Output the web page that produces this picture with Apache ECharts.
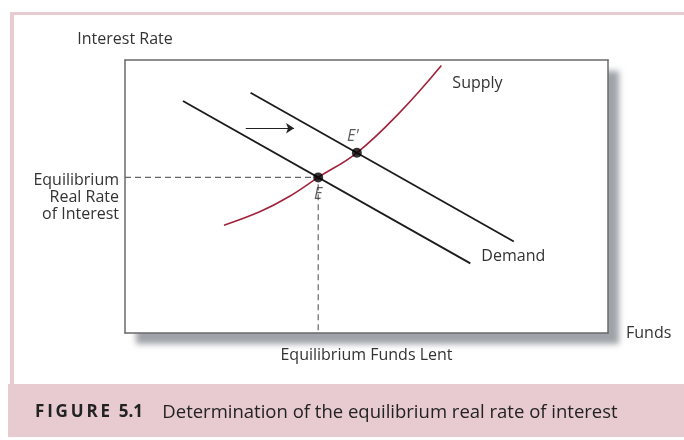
<!DOCTYPE html>
<html>
<head>
<meta charset="utf-8">
<script src="https://cdn.jsdelivr.net/npm/echarts@6/dist/echarts.min.js"></script>
<style>
  html, body { margin: 0; padding: 0; background: #fff; }
  #chart { width: 684px; height: 440px; }
</style>
</head>
<body>
<div id="chart"></div>
<script>
var dom = document.getElementById('chart');
var myChart = echarts.init(dom, null, { renderer: 'canvas' });

// values on a 0-100 scale for both axes
var demandOld = [[12, 85], [71.5, 25.5]];
var demandNew = [[26, 88], [80.5, 33.5]];
var supply = [[20.5, 39.5], [28, 44.5], [34, 50], [40, 57], [48, 66], [57, 81], [65.5, 98]];
var eqOld = [40, 57];
var eqNew = [48, 66];
var shiftArrow = [[25, 75], [35, 75]];
var eqRateLabel = 'Equilibrium\nReal Rate\nof Interest';
var eqFundsLabel = 'Equilibrium Funds Lent';
var eqFundsTick = 50;

var font = 'Open Sans';
var pink = '#e8cbd1';
var boxColor = '#6a6a6a';

var plainAxis = {
    type: 'value', min: 0, max: 100,
    axisLine: { show: true, onZero: false, lineStyle: { color: boxColor, width: 1.5 } },
    axisTick: { show: false },
    splitLine: { show: false },
    axisLabel: { show: false }
};

option = {
    animation: false,
    backgroundColor: '#fff',
    textStyle: { fontFamily: font },
    graphic: [
        { type: 'rect', shape: { x: 10, y: 12, width: 680, height: 3 }, style: { fill: pink }, silent: true },
        { type: 'rect', shape: { x: 10, y: 12, width: 4, height: 380 }, style: { fill: pink }, silent: true },
        { type: 'rect', shape: { x: 8, y: 384, width: 680, height: 53 }, style: { fill: pink }, silent: true }
    ],
    title: {
        left: 35,
        top: 403,
        padding: 0,
        text: '{b|F\u2009I\u2009G\u2009U\u2009R\u2009E  5.1}    Determination of the equilibrium real rate of interest',
        textStyle: {
            fontFamily: font,
            fontSize: 18.5,
            fontWeight: 'normal',
            color: '#222',
            rich: {
                b: { fontFamily: font, fontSize: 17, fontWeight: 'bold', color: '#222' }
            }
        }
    },
    grid: {
        left: 125, top: 60, width: 483, height: 273,
        show: true,
        backgroundColor: '#fff',
        borderWidth: 0,
        shadowColor: 'rgba(95, 100, 110, 0.6)',
        shadowBlur: 6,
        shadowOffsetX: 11,
        shadowOffsetY: 11
    },
    xAxis: [
        {
            type: 'value', min: 0, max: 100, interval: 50,
            name: 'Funds', nameLocation: 'end', nameGap: 18,
            nameTextStyle: { fontFamily: font, fontSize: 16, color: '#333', padding: [0, 0, 6, 0] },
            axisLine: { show: true, onZero: false, lineStyle: { color: boxColor, width: 1.5 } },
            axisTick: { show: false },
            splitLine: { show: false },
            axisLabel: {
                margin: 14, fontFamily: font, fontSize: 16, color: '#333',
                formatter: function (v) { return v === eqFundsTick ? eqFundsLabel : ''; }
            }
        },
        Object.assign({ position: 'top' }, plainAxis)
    ],
    yAxis: [
        {
            type: 'value', min: 0, max: 100, interval: 57,
            name: 'Interest Rate', nameLocation: 'end', nameGap: 13,
            nameTextStyle: { fontFamily: font, fontSize: 16, color: '#333' },
            axisLine: { show: true, onZero: false, lineStyle: { color: boxColor, width: 1.5 } },
            axisTick: { show: false },
            splitLine: { show: false },
            axisLabel: {
                margin: 6, fontFamily: font, fontSize: 16, color: '#333',
                lineHeight: 17, verticalAlign: 'top', padding: [-5, 0, 0, 0],
                formatter: function (v) { return v === eqOld[1] ? eqRateLabel : ''; }
            }
        },
        Object.assign({ position: 'right' }, plainAxis)
    ],
    series: [
        {
            name: 'guides', type: 'line', symbol: 'none', silent: true,
            data: [[0, eqOld[1]], eqOld, [eqOld[0], 0]],
            lineStyle: { color: '#666', width: 1.2, type: [6, 4] },
            z: 1
        },
        {
            name: 'Demand', type: 'line', symbol: 'none',
            data: demandOld,
            lineStyle: { color: '#1b1b1b', width: 1.8 },
            endLabel: {
                show: true, formatter: 'Demand', offset: [3, -7],
                fontFamily: font, fontSize: 16, color: '#333'
            },
            markLine: {
                silent: true,
                symbol: ['none', 'arrow'], symbolSize: 8,
                label: { show: false },
                lineStyle: { color: '#222', width: 1.2, type: 'solid' },
                data: [[{ coord: shiftArrow[0] }, { coord: shiftArrow[1] }]]
            }
        },
        {
            name: "Demand'", type: 'line', symbol: 'none',
            data: demandNew,
            lineStyle: { color: '#1b1b1b', width: 1.8 }
        },
        {
            name: 'Supply', type: 'line', symbol: 'none', smooth: 0.4,
            data: supply,
            lineStyle: { color: '#a1243c', width: 1.6 },
            endLabel: {
                show: true, formatter: 'Supply', offset: [3, 18],
                fontFamily: font, fontSize: 16, color: '#333'
            }
        },
        {
            name: 'equilibrium', type: 'scatter', symbolSize: 10,
            itemStyle: { color: '#000' },
            z: 5,
            data: [
                { value: eqOld, label: { show: true, formatter: 'E', position: 'bottom', offset: [0, -1] } },
                { value: eqNew, label: { show: true, formatter: "E'", position: 'top', offset: [-4, 2] } }
            ],
            label: { fontFamily: font, fontSize: 16, fontStyle: 'italic', color: '#333' }
        }
    ]
};

if (option && typeof option === 'object') {
    myChart.setOption(option);
}

window.addEventListener('resize', myChart.resize);
</script>
</body>
</html>
